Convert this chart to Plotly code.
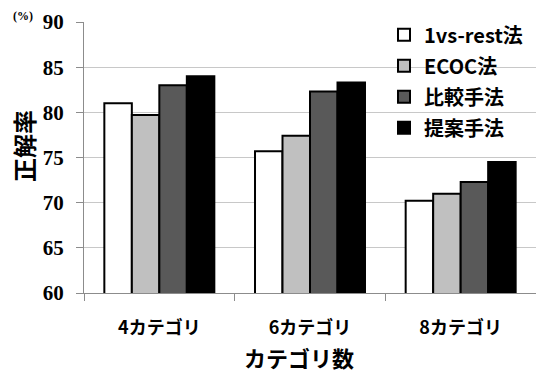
import plotly.graph_objects as go

categories = ["4カテゴリ", "6カテゴリ", "8カテゴリ"]
series_names = ["1vs-rest法", "ECOC法", "比較手法", "提案手法"]
vals_1vsrest = [81.0, 75.7, 70.2]
vals_ecoc = [79.7, 77.4, 71.0]
vals_hikaku = [83.0, 82.3, 72.3]
vals_teian = [84.0, 83.3, 74.5]
series_values = [vals_1vsrest, vals_ecoc, vals_hikaku, vals_teian]
colors = ["#ffffff", "#c0c0c0", "#595959", "#000000"]
y_ticks = [60, 65, 70, 75, 80, 85, 90]

JP = "Noto Sans CJK JP"
SERIF = "Times New Roman, Liberation Serif, serif"

fig = go.Figure()
for i, (name, vals) in enumerate(zip(series_names, series_values)):
    fig.add_trace(go.Bar(
        x=categories, y=vals, name=f"<b>{name}</b>", legendgroup=f"g{i}",
        marker=dict(color=colors[i], line=dict(color="#000000", width=2)),
    ))

W, H = 536, 374
ml, mr, mt, mb = 84, 0, 22, 81
pw = W - ml - mr
ph = H - mt - mb

fig.update_layout(
    template="none",
    font=dict(family=SERIF, color="black"),
    width=W, height=H,
    margin=dict(l=ml, r=mr, t=mt, b=mb),
    paper_bgcolor="white", plot_bgcolor="white",
    barmode="group", bargap=0.27, bargroupgap=0,
    showlegend=True,
    legend=dict(
        x=(384 - ml) / pw, y=1.025, xanchor="left", yanchor="top",
        bgcolor="rgba(0,0,0,0)", traceorder="grouped", tracegroupgap=2,
        itemwidth=30, borderwidth=0,
        font=dict(family=JP, size=20, color="black"),
    ),
    xaxis=dict(
        type="category", tickson="boundaries", ticks="outside", ticklen=7,
        tickcolor="#8c8c8c", showline=True, linecolor="#8c8c8c", linewidth=1,
        showgrid=False, zeroline=False, ticklabelstandoff=18,
        tickvals=categories, ticktext=[f"<b>{c}</b>" for c in categories],
        tickfont=dict(family=JP, size=18, color="black"),
    ),
    yaxis=dict(
        range=[60, 90], tickvals=y_ticks, ticktext=[f"<b>{v}</b>" for v in y_ticks],
        ticks="outside", ticklen=7,
        tickcolor="#8c8c8c", showline=True, linecolor="#8c8c8c", linewidth=1,
        showgrid=True, gridcolor="#c8c8c8", gridwidth=1, zeroline=False,
        ticklabelstandoff=8,
        tickfont=dict(family=SERIF, size=21, color="black"),
    ),
    annotations=[
        dict(text="<b>正解率</b>", xref="paper", yref="paper",
             x=(23 - ml) / pw, y=(293 - 146) / ph, xanchor="center", yanchor="middle",
             textangle=-90, showarrow=False,
             font=dict(family=JP, size=24, color="black")),
        dict(text="<b>カテゴリ数</b>", xref="paper", yref="paper",
             x=(299 - ml) / pw, y=-(357 - 293) / ph, xanchor="center", yanchor="middle",
             showarrow=False,
             font=dict(family=JP, size=22, color="black")),
        dict(text="<b>(%)</b>", xref="paper", yref="paper",
             x=(23 - ml) / pw, y=(293 - 16) / ph, xanchor="center", yanchor="middle",
             showarrow=False,
             font=dict(family=SERIF, size=12, color="black")),
    ],
)

fig.write_html("out.html")
